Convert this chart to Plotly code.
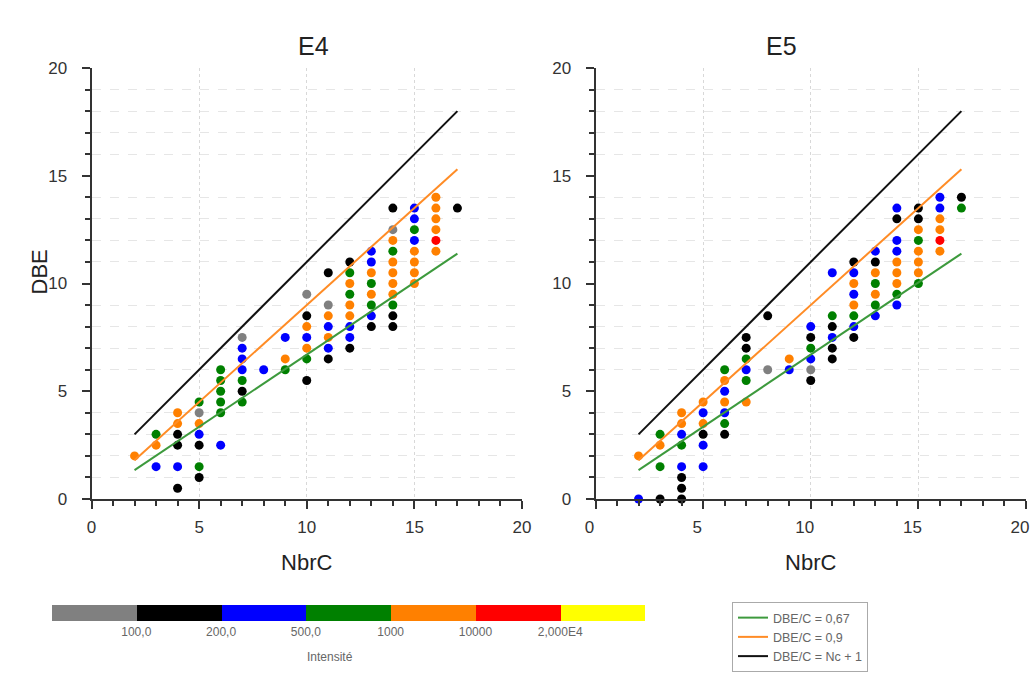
import plotly.graph_objects as go

# ---------------- data ----------------
class_names = ["<100", "100-200", "200-500", "500-1000", "1000-10000", "10000-2E4", ">2E4"]
class_colors = ["#808080", "#000000", "#0000ff", "#008000", "#ff8000", "#ff0000", "#ffff00"]
boundary_labels = ["100,0", "200,0", "500,0", "1000", "10000", "2,000E4"]

# E4 : class index 0=gray 1=black 2=blue 3=green 4=orange 5=red
e4_nbrc = [2,
           3, 3, 3,
           4, 4, 4, 4, 4, 4,
           5, 5, 5, 5, 5, 5, 5,
           6, 6, 6, 6, 6, 6,
           7, 7, 7, 7, 7, 7, 7,
           8,
           9, 9, 9,
           10, 10, 10, 10, 10, 10, 10,
           11, 11, 11, 11, 11, 11, 11,
           12, 12, 12, 12, 12, 12, 12, 12, 12,
           13, 13, 13, 13, 13, 13, 13, 13,
           14, 14, 14, 14, 14, 14, 14, 14, 14, 14, 14,
           15, 15, 15, 15, 15, 15, 15, 15,
           16, 16, 16, 16, 16, 16,
           17]
e4_dbe = [2,
          3, 2.5, 1.5,
          4, 3.5, 3, 2.5, 1.5, 0.5,
          4.5, 4, 3.5, 3, 2.5, 1.5, 1,
          6, 5.5, 5, 4.5, 4, 2.5,
          7.5, 7, 6.5, 6, 5.5, 5, 4.5,
          6,
          7.5, 6.5, 6,
          9.5, 8.5, 8, 7.5, 7, 6.5, 5.5,
          10.5, 9, 8.5, 8, 7.5, 7, 6.5,
          11, 10.5, 10, 9.5, 9, 8.5, 8, 7.5, 7,
          11.5, 11, 10.5, 10, 9.5, 9, 8.5, 8,
          13.5, 12.5, 12, 11.5, 11, 10.5, 10, 9.5, 9, 8.5, 8,
          13.5, 13, 12.5, 12, 11.5, 11, 10.5, 10,
          14, 13.5, 13, 12.5, 12, 11.5,
          13.5]
e4_class = [4,
            3, 4, 2,
            4, 4, 1, 1, 2, 1,
            3, 0, 4, 2, 1, 3, 1,
            3, 3, 3, 3, 3, 2,
            0, 2, 2, 2, 3, 1, 3,
            2,
            2, 4, 3,
            0, 1, 4, 2, 4, 3, 1,
            1, 0, 4, 2, 4, 2, 1,
            1, 3, 4, 3, 4, 4, 2, 2, 1,
            2, 2, 4, 3, 4, 3, 2, 1,
            1, 0, 4, 3, 4, 4, 4, 4, 3, 1, 1,
            2, 2, 3, 2, 4, 4, 4, 4,
            4, 4, 4, 4, 5, 4,
            1]

e5_nbrc = [2, 2,
           3, 3, 3, 3,
           4, 4, 4, 4, 4, 4, 4, 4,
           5, 5, 5, 5, 5, 5,
           6, 6, 6, 6, 6, 6, 6,
           7, 7, 7, 7, 7, 7,
           8, 8,
           9, 9,
           10, 10, 10, 10, 10, 10,
           11, 11, 11, 11, 11, 11,
           12, 12, 12, 12, 12, 12, 12, 12,
           13, 13, 13, 13, 13, 13, 13,
           14, 14, 14, 14, 14, 14, 14, 14, 14,
           15, 15, 15, 15, 15, 15, 15, 15,
           16, 16, 16, 16, 16, 16,
           17, 17]
e5_dbe = [2, 0,
          3, 2.5, 1.5, 0,
          4, 3.5, 3, 2.5, 1.5, 1, 0.5, 0,
          4.5, 4, 3.5, 3, 2.5, 1.5,
          6, 5.5, 5, 4.5, 4, 3.5, 3,
          7.5, 7, 6.5, 6, 5.5, 4.5,
          8.5, 6,
          6.5, 6,
          8, 7.5, 7, 6.5, 6, 5.5,
          10.5, 8.5, 8, 7.5, 7, 6.5,
          11, 10.5, 10, 9.5, 9, 8.5, 8, 7.5,
          11.5, 11, 10.5, 10, 9.5, 9, 8.5,
          13.5, 13, 12, 11.5, 11, 10.5, 10, 9.5, 9,
          13.5, 13, 12.5, 12, 11.5, 11, 10.5, 10,
          14, 13.5, 13, 12.5, 12, 11.5,
          14, 13.5]
e5_class = [4, 2,
            3, 4, 3, 1,
            4, 4, 2, 3, 2, 1, 1, 1,
            4, 2, 4, 1, 2, 2,
            3, 4, 2, 4, 2, 3, 1,
            1, 1, 3, 2, 3, 4,
            1, 0,
            4, 2,
            2, 1, 3, 2, 0, 1,
            2, 3, 1, 2, 1, 1,
            1, 2, 4, 2, 4, 3, 2, 1,
            2, 1, 4, 3, 4, 3, 2,
            2, 1, 2, 2, 4, 4, 4, 3, 2,
            1, 1, 4, 3, 4, 4, 4, 3,
            2, 2, 4, 4, 5, 4,
            1, 3]

line_nbrc = [2, 17]
line_ratio_067 = 0.67
line_ratio_09 = 0.9
line_names = ["DBE/C = 0,67", "DBE/C = 0,9", "DBE/C = Nc + 1"]
line_colors = ["#3d9a3d", "#ff8c26", "#111111"]

panel_titles = ["E4", "E5"]

# ---------------- figure ----------------
fig = go.Figure()

W, H = 1031, 673
OFF = 0  # page body margin removed by post_script
def px_x(p):
    return (p - OFF) / W
def px_y(p):
    return 1 - (p - OFF) / H

panels = [
    dict(nbrc=e4_nbrc, dbe=e4_dbe, cls=e4_class, xa="x", ya="y"),
    dict(nbrc=e5_nbrc, dbe=e5_dbe, cls=e5_class, xa="x2", ya="y2"),
]

for pi, p in enumerate(panels):
    for ci, cname in enumerate(class_names):
        xs = [c for c, k in zip(p["nbrc"], p["cls"]) if k == ci]
        ys = [d for d, k in zip(p["dbe"], p["cls"]) if k == ci]
        if not xs:
            continue
        fig.add_trace(go.Scatter(
            x=xs, y=ys, mode="markers", name=cname, showlegend=False,
            marker=dict(color=class_colors[ci], size=9, line=dict(width=0)),
            xaxis=p["xa"], yaxis=p["ya"], cliponaxis=False))
    line_sets = [
        [c * line_ratio_067 for c in line_nbrc],
        [c * line_ratio_09 for c in line_nbrc],
        [c + 1 for c in line_nbrc],
    ]
    for li, ys in enumerate(line_sets):
        fig.add_trace(go.Scatter(
            x=line_nbrc, y=ys, mode="lines", name=line_names[li],
            line=dict(color=line_colors[li], width=2),
            showlegend=(pi == 0), xaxis=p["xa"], yaxis=p["ya"]))

# intensity colour bar (stacked horizontal bar)
fig.add_trace(go.Bar(
    x=[1] * len(class_names), base=list(range(len(class_names))),
    y=[0] * len(class_names), orientation="h", width=1,
    marker=dict(color=class_colors, line=dict(width=0)),
    showlegend=False, xaxis="x5", yaxis="y5", hoverinfo="skip"))

font_family = "Liberation Sans, Arial, sans-serif"
tick_font = dict(family=font_family, size=17, color="#333333")

left_dom = [px_x(91.5), px_x(522)]
right_dom = [px_x(595.5), px_x(1026)]
y_dom = [px_y(499), px_y(68)]

def main_x(domain, anchor, shift=0):
    return dict(domain=domain, anchor=anchor, range=[0, 20], dtick=5, tick0=0,
                ticks="outside", ticklen=8, tickwidth=1.5, tickcolor="#333333",
                showline=True, linewidth=2, linecolor="#333333",
                showgrid=True, gridcolor="#d8d8d8", griddash="dot", gridwidth=1,
                zeroline=False, tickfont=tick_font, ticklabelstandoff=4,
                ticklabelshift=shift, automargin=False,
                minor=dict(dtick=1, ticks="outside", ticklen=5, tickcolor="#333333",
                           tickwidth=1.5, showgrid=False),
                title=dict(text="NbrC", font=dict(family=font_family, size=22, color="#222222"),
                           standoff=18),
                fixedrange=True)

def main_y(domain, anchor):
    return dict(domain=domain, anchor=anchor, range=[0, 20], dtick=5, tick0=0,
                ticks="outside", ticklen=8, tickwidth=1.5, tickcolor="#333333",
                showline=True, linewidth=2, linecolor="#333333",
                showgrid=False, automargin=False,
                zeroline=False, tickfont=tick_font, ticklabelstandoff=11,
                minor=dict(dtick=1, ticks="outside", ticklen=5, tickcolor="#333333",
                           tickwidth=1.5, showgrid=True, gridcolor="#e6e6e6",
                           griddash="dash", gridwidth=1),
                fixedrange=True)

def mirror_axis(overlay, side, anchor):
    return dict(overlaying=overlay, side=side, anchor=anchor, range=[0, 20], dtick=5,
                tick0=0, ticks="inside", ticklen=6, tickwidth=1.5, tickcolor="#333333",
                showticklabels=False, showgrid=False, zeroline=False, showline=True,
                linewidth=2, linecolor="#333333", automargin=False,
                minor=dict(dtick=1, ticks="inside", ticklen=4, tickcolor="#333333",
                           tickwidth=1.5, showgrid=False),
                fixedrange=True)

fig.update_layout(
    width=W, height=H,
    margin=dict(l=0, r=0, t=0, b=0, autoexpand=False),
    paper_bgcolor="white", plot_bgcolor="white",
    font=dict(family=font_family, color="#333333"),
    bargap=0, barmode="overlay",
    xaxis=main_x(left_dom, "y"),
    yaxis=main_y(y_dom, "x"),
    xaxis2=main_x(right_dom, "y2", shift=-6),
    yaxis2=main_y(y_dom, "x2"),
    xaxis3=mirror_axis("x", "top", "y"),
    yaxis3=mirror_axis("y", "right", "x"),
    xaxis4=mirror_axis("x2", "top", "y2"),
    yaxis4=mirror_axis("y2", "right", "x2"),
    xaxis5=dict(domain=[px_x(51.5), px_x(645)], anchor="y5", range=[0, len(class_names)],
                tickvals=list(range(1, len(class_names))), ticktext=boundary_labels,
                ticks="", showline=False, showgrid=False, zeroline=False,
                tickfont=dict(family=font_family, size=12, color="#666666"),
                ticklabelstandoff=2, automargin=False, fixedrange=True),
    yaxis5=dict(domain=[px_y(621), px_y(605)], anchor="x5", range=[-0.5, 0.5],
                showticklabels=False, showgrid=False, zeroline=False, showline=False,
                automargin=False, fixedrange=True),
    legend=dict(x=px_x(732), y=px_y(602), xanchor="left", yanchor="top",
                bordercolor="#aaaaaa", borderwidth=1, bgcolor="white",
                font=dict(family=font_family, size=12.5, color="#666666"),
                itemwidth=30, tracegroupgap=0, entrywidth=120, entrywidthmode="pixels"),
    annotations=[
        dict(text=panel_titles[0], x=px_x(296), y=px_y(30), xref="paper", yref="paper",
             showarrow=False, font=dict(family=font_family, size=25, color="#222222")),
        dict(text=panel_titles[1], x=px_x(799), y=px_y(30), xref="paper", yref="paper",
             showarrow=False, font=dict(family=font_family, size=25, color="#222222")),
        dict(text="DBE", x=px_x(24), y=px_y(272), xref="paper", yref="paper",
             showarrow=False, textangle=-90,
             font=dict(family=font_family, size=22, color="#222222")),
        dict(text="Intensité", x=px_x(305), y=px_y(666), xref="paper", yref="paper",
             showarrow=False, font=dict(family=font_family, size=12, color="#666666")),
    ],
)

fig.write_html(
    "out.html",
    config={"displayModeBar": False},
    post_script="document.body.style.margin='0';document.body.style.overflow='hidden';",
)
